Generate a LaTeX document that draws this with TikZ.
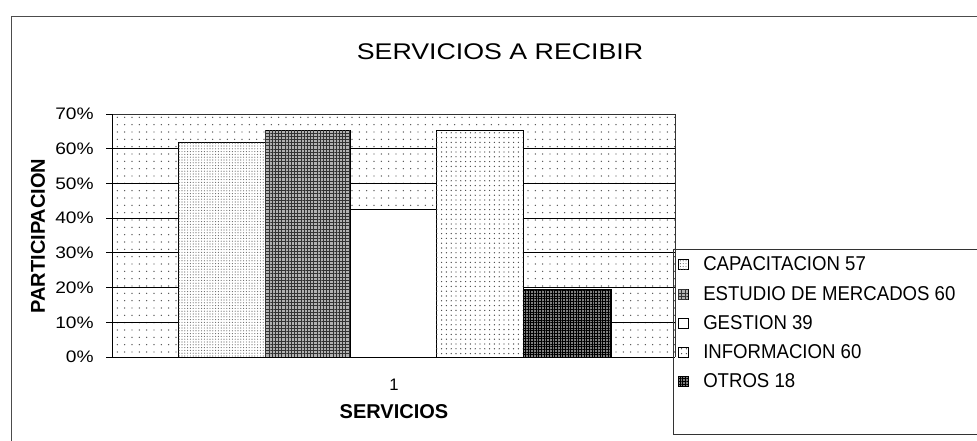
\documentclass[tikz,border=0pt]{standalone}
\usepackage{fontspec}
\setmainfont{Liberation Sans}
\usepackage{tikz}
\usetikzlibrary{positioning,patterns.meta}

\tikzstyle{area}=[pattern={Dots[distance=5.5pt,radius=0.55pt]}, pattern color=black!70]
\tikzstyle{gridline}=[black, line width=0.6pt]
\tikzstyle{capacitacion}=[draw=black, line width=0.6pt, fill=white,
postaction={pattern={Dots[distance=2.1pt,radius=0.42pt]}, pattern color=black!60}]
\tikzstyle{estudio}=[draw=black, line width=0.6pt, fill=black!30,
postaction={pattern={Hatch[distance=2.4pt,line width=0.35pt]}, pattern color=black!80}]
\tikzstyle{gestion}=[draw=black, line width=0.6pt, fill=white]
\tikzstyle{informacion}=[draw=black, line width=0.6pt, fill=white,
postaction={pattern={Dots[distance=3.6pt,radius=0.5pt]}, pattern color=black!75}]
\tikzstyle{otros}=[draw=black, line width=0.6pt, fill=black!50,
postaction={pattern={Hatch[distance=2pt,line width=0.4pt]}, pattern color=black}]
\tikzstyle{ticklabel}=[anchor=east, inner sep=0pt, xscale=1.15, font=\fontsize{12.5}{12.5}\selectfont]
\tikzstyle{legendtext}=[anchor=west, inner sep=0pt, xscale=0.93, font=\fontsize{15}{15}\selectfont]

\begin{document}
\begin{tikzpicture}[x=0.75pt, y=-0.75pt]
        \useasboundingbox (0,0) rectangle (977,440);
        \clip (0,0) rectangle (977,440);
        % chart frame
        \draw [black!70, line width=0.5pt] (11,460) -- (11,16) -- (990,16);
        \node (title)[xscale=1.18, font=\fontsize{17}{17}\selectfont] at (500,52) {SERVICIOS A RECIBIR};

        % plot area
        \path [area] (112,114) rectangle (675,357);
        \foreach \v in {1,...,6}
            \draw [gridline] (112,{357-34.714*\v}) -- (675,{357-34.714*\v});
        \draw [black!80, line width=0.5pt] (112,114) -- (675,114) -- (675,357);

        % bars
        \draw [capacitacion] (178,357) rectangle (265,{357-3.4714*61.96});
        \draw [estudio] (265,357) rectangle (350,{357-3.4714*65.22});
        \draw [gestion] (350,357) rectangle (436,{357-3.4714*42.39});
        \draw [informacion] (436,357) rectangle (523,{357-3.4714*65.22});
        \draw [otros] (523,357) rectangle (611,{357-3.4714*19.57});

        % axes
        \draw [black, line width=0.7pt] (112,114) -- (112,357) -- (675,357);
        \foreach \v/\t in {0/0,1/10,2/20,3/30,4/40,5/50,6/60,7/70}
        {
            \draw [black, line width=0.6pt] (106,{357-34.714*\v}) -- (112,{357-34.714*\v});
            \node (t\v)[ticklabel] at (94,{357-34.714*\v}) {\t\%};
        }
        \node (ytitle)[rotate=90, font=\bfseries\fontsize{15}{15}\selectfont] at (38,236) {PARTICIPACION};
        \node (cat)[font=\fontsize{12.5}{12.5}\selectfont] at (394,385) {1};
        \node (xtitle)[font=\bfseries\fontsize{15}{15}\selectfont] at (394,412) {SERVICIOS};

        % legend
        \draw [black!80, line width=0.5pt] (990,249) -- (673,249) -- (673,434) -- (990,434);
        \draw [capacitacion, line width=0.5pt] (678,259) rectangle (688,269);
        \node (l1)[legendtext] at (703,264) {CAPACITACION 57};
        \draw [estudio, line width=0.5pt] (678,289) rectangle (688,299);
        \node (l2)[legendtext] at (703,294) {ESTUDIO DE MERCADOS 60};
        \draw [gestion, line width=0.5pt] (678,318) rectangle (688,328);
        \node (l3)[legendtext] at (703,323) {GESTION 39};
        \draw [informacion, line width=0.5pt] (678,347) rectangle (688,357);
        \node (l4)[legendtext] at (703,352) {INFORMACION 60};
        \draw [otros, line width=0.5pt] (678,376) rectangle (688,386);
        \node (l5)[legendtext] at (703,381) {OTROS 18};
\end{tikzpicture}
\end{document}
